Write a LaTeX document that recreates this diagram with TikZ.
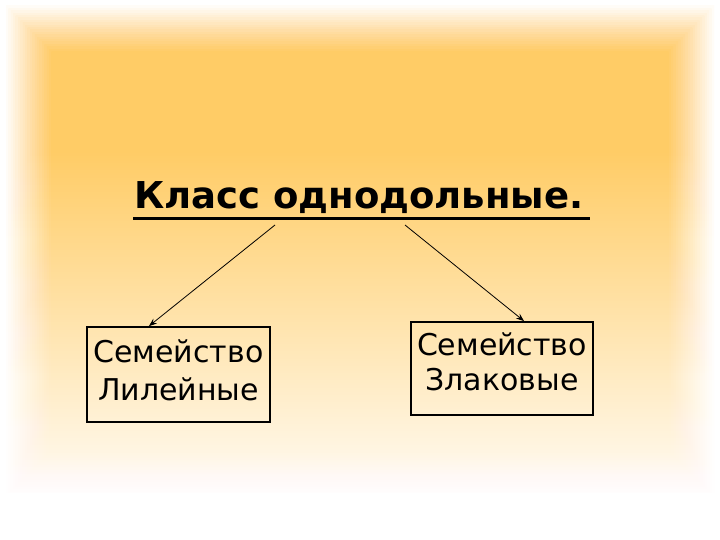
\documentclass[tikz,border=0pt]{standalone}
\usepackage{fontspec}
\setmainfont{DejaVu Sans}
\usetikzlibrary{arrows.meta,calc}

\definecolor{bgtop}{RGB}{255,204,102}
\definecolor{bgpale}{RGB}{255,251,243}
\pgfdeclareverticalshading{bgfade}{100bp}{color(0bp)=(bgpale); color(25bp)=(bgpale);
    color(60bp)=(bgtop); color(100bp)=(bgtop)}

\begin{document}
\begin{tikzpicture}[x=1pt,y=-1pt,
    famnode/.style={draw=black,line width=1.8pt,inner sep=0pt,align=center,
        font=\fontsize{30}{38}\selectfont},
    branch/.style={line width=0.8pt,-{Stealth[length=8pt,width=6pt]}}]

    \useasboundingbox (0,0) rectangle (720,540);
    \fill[white] (0,0) rectangle (720,540);

    \foreach \i in {0,...,19}{
      \pgfmathsetmacro\op{1/(20-\i)}
      \begin{scope}
        \clip ({6+2.4*\i},{6+2.4*\i}) rectangle ({714-2.4*\i},{496-2.4*\i});
        \shade[shading=bgfade,opacity=\op] (6,6) rectangle (714,492);
      \end{scope}
    }

    \node[font=\fontsize{37}{40}\selectfont\bfseries,inner sep=0pt,anchor=base west] (klass) at (134,208) {Класс однодольные.};
    \draw[line width=3pt] ($(klass.base west)+(-1,11)$) -- ($(klass.base east)+(6,11)$);

    \node[famnode,minimum width=183pt,minimum height=95pt,text height=61pt,text depth=10pt] (lil) at (178.5,374.5) {Семейство\\Лилейные};
    \node[famnode,minimum width=182pt,minimum height=93pt,text height=53pt,text depth=10pt,
        font=\fontsize{30}{35}\selectfont] (zlak) at (502,368.5) {Семейство\\Злаковые};

    \coordinate (lfrom) at (275,225);
    \coordinate (rfrom) at (405,225);
    \draw[branch] (lfrom) -- ($(lil.north west)!.34!(lil.north east)$);
    \draw[branch] (rfrom) -- ($(zlak.north west)!.62!(zlak.north east)$);

\end{tikzpicture}
\end{document}
